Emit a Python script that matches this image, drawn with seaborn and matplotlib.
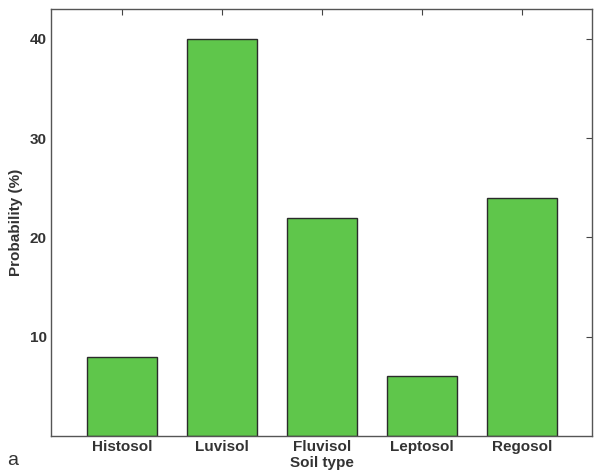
import seaborn as sns
import matplotlib
matplotlib.use("Agg")
import matplotlib.pyplot as plt
import pandas as pd

soil_types = ["Histosol", "Luvisol", "Fluvisol", "Leptosol", "Regosol"]
probability = [8, 40, 22, 6, 24]

df = pd.DataFrame({"Soil type": soil_types, "Probability (%)": probability})

sns.set_style("white")
plt.rcParams["font.family"] = ["Liberation Sans", "DejaVu Sans"]

fig = plt.figure(figsize=(5.96, 4.75), dpi=100)
ax = fig.add_axes([0.0856, 0.0821, 0.9077, 0.8989])

sns.barplot(df, x="Soil type", y="Probability (%)", color="#5fc64b",
            saturation=1, width=0.7, edgecolor="#2b2b2b", linewidth=1.0, ax=ax)

ax.set_ylim(0, 43)
ax.set_xlim(-0.71, 4.7)
ax.set_yticks([10, 20, 30, 40])
ax.tick_params(direction="in", length=4, width=0.8, color="#444444",
               top=True, right=True, labelsize=11, pad=3)
for lab in ax.get_xticklabels() + ax.get_yticklabels():
    lab.set_fontweight("bold")
    lab.set_color("#333333")
for s in ax.spines.values():
    s.set_color("#555555")
    s.set_linewidth(1.0)

ax.set_xlabel("Soil type", fontsize=11, fontweight="bold", color="#333333", labelpad=1)
ax.set_ylabel("Probability (%)", fontsize=11, fontweight="bold", color="#333333", labelpad=5)
fig.text(0.012, 0.022, "a", fontsize=14, color="#333333")

fig.savefig("out.png", dpi=100)
